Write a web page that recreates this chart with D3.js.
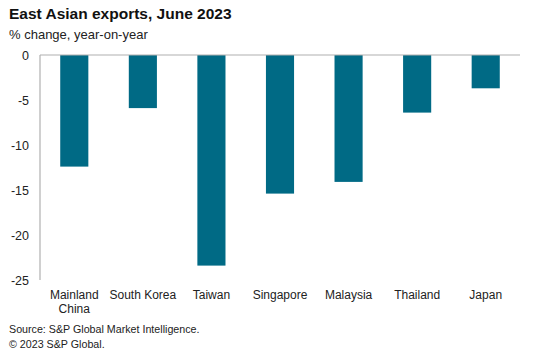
<!DOCTYPE html>
<html><head><meta charset="utf-8">
<script src="https://cdn.jsdelivr.net/npm/d3@7"></script>
<style>body{margin:0;background:#fff;} text{font-family:"Liberation Sans",Arial,sans-serif;}</style>
</head><body>
<svg id="c" width="533" height="359"></svg>
<script>
const categories = [["Mainland","China"],["South Korea"],["Taiwan"],["Singapore"],["Malaysia"],["Thailand"],["Japan"]];
const values = [-12.4, -5.9, -23.4, -15.4, -14.1, -6.4, -3.7];
const yTicks = [0, -5, -10, -15, -20, -25];
const title = "East Asian exports, June 2023";
const subtitle = "% change, year-on-year";
const footer = ["Source: S&P Global Market Intelligence.", "© 2023 S&P Global."];

(function(){
const svg = d3.select("#c");
const pl = 40, pr = 520, pt = 55, pb = 280;
const x = d3.scaleBand().domain(categories.map((d,i)=>i)).range([pl,pr]).paddingInner(0.59).paddingOuter(0.295);
const y = d3.scaleLinear().domain([-25,0]).range([pb,pt]);

svg.append("text").attr("x",9).attr("y",19).attr("font-size",15.5).attr("font-weight","bold").attr("fill","#111").text(title);
svg.append("text").attr("x",9).attr("y",39).attr("font-size",13).attr("fill","#222").text(subtitle);

svg.selectAll("rect.bar").data(values).join("rect").attr("class","bar")
  .attr("x",(d,i)=>x(i)).attr("width",x.bandwidth())
  .attr("y",d=>y(0)).attr("height",d=>y(d)-y(0)).attr("fill","#006a85");

svg.append("line").attr("x1",pl).attr("x2",pr).attr("y1",y(0)).attr("y2",y(0)).attr("stroke","#b0b0b0").attr("stroke-width",1.2);
svg.append("line").attr("x1",pl).attr("x2",pl).attr("y1",y(0)).attr("y2",y(-25)).attr("stroke","#b0b0b0").attr("stroke-width",1.2);

const yAxis = d3.axisLeft(y).tickValues(yTicks).tickSize(0).tickPadding(11).tickFormat(d=>String(d));
const ga = svg.append("g").attr("transform",`translate(${pl},0)`).call(yAxis);
ga.select(".domain").remove();
ga.selectAll("text").attr("font-size",12.5).attr("fill","#222").attr("font-family","'Liberation Sans',Arial,sans-serif");

const lab = svg.selectAll("text.cat").data(categories).join("text").attr("class","cat")
  .attr("x",(d,i)=>x(i)+x.bandwidth()/2).attr("y",299).attr("text-anchor","middle").attr("font-size",12).attr("fill","#222");
lab.selectAll("tspan").data(d=>d).join("tspan").attr("x",function(){return this.parentNode.getAttribute("x");})
  .attr("dy",(d,j)=>j===0?0:13.5).text(d=>d);

svg.selectAll("text.foot").data(footer).join("text").attr("class","foot")
  .attr("x",9).attr("y",(d,i)=>333+i*15).attr("font-size",10.7).attr("fill","#222").text(d=>d);
})();
</script>
</body></html>
